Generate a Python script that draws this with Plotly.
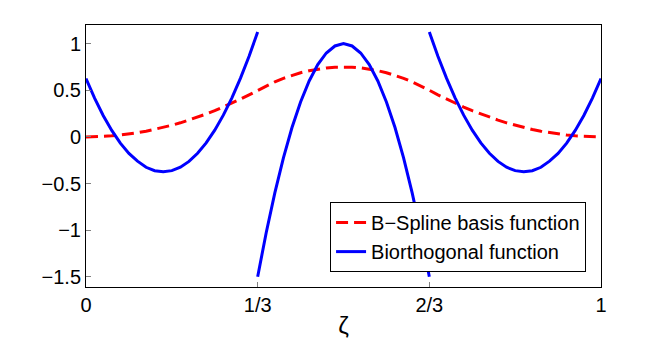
import plotly.graph_objects as go

# sample positions (zeta), 21 per knot interval
x_a = [i / 60 for i in range(0, 21)]
x_b = [i / 60 for i in range(20, 41)]
x_c = [i / 60 for i in range(40, 61)]

# B-spline basis function values
spline_a = [0, 0.001, 0.005, 0.011, 0.02, 0.031, 0.045, 0.061, 0.08, 0.101, 0.125,
            0.151, 0.18, 0.211, 0.245, 0.281, 0.32, 0.361, 0.405, 0.451, 0.5]
spline_b = [0.5, 0.548, 0.59, 0.628, 0.66, 0.688, 0.71, 0.728, 0.74, 0.748, 0.75,
            0.748, 0.74, 0.728, 0.71, 0.688, 0.66, 0.628, 0.59, 0.548, 0.5]
spline_c = spline_a[::-1]

# biorthogonal function values
bio_a = [0.625, 0.415, 0.23, 0.069, -0.067, -0.178, -0.26, -0.326, -0.363, -0.375, -0.362,
         -0.325, -0.263, -0.176, -0.065, 0.072, 0.233, 0.419, 0.63, 0.865, 1.125]
bio_b = [-1.5, -1.025, -0.6, -0.225, 0.1, 0.375, 0.6, 0.775, 0.9, 0.975, 1.0,
         0.975, 0.9, 0.775, 0.6, 0.375, 0.1, -0.225, -0.6, -1.025, -1.5]
bio_c = bio_a[::-1]

tick_vals = [0, 1/3, 2/3, 1]
tick_text = ['0', '1/3', '2/3', '1']

fig = go.Figure()
fig.add_trace(go.Scatter(x=x_a + x_b[1:] + x_c[1:],
                         y=spline_a + spline_b[1:] + spline_c[1:],
                         mode='lines', name='B\u2212Spline basis function',
                         line=dict(color='red', width=3, dash='12px,6px')))
fig.add_trace(go.Scatter(x=x_a + [None] + x_b + [None] + x_c,
                         y=bio_a + [None] + bio_b + [None] + bio_c,
                         mode='lines', name='Biorthogonal function', connectgaps=False,
                         line=dict(color='blue', width=3)))

fig.update_xaxes(range=[0, 1], tickvals=tick_vals, ticktext=tick_text,
                 ticks='inside', ticklen=5, tickcolor='gray', automargin=False,
                 showline=True, linecolor='black', mirror=True, showgrid=False,
                 zeroline=False, title=dict(text='\u03b6', standoff=6),
                 tickfont=dict(size=20))
fig.update_yaxes(range=[-1.61, 1.2], tickvals=[-1.5, -1, -0.5, 0, 0.5, 1],
                 ticktext=['\u22121.5', '\u22121', '\u22120.5', '0', '0.5', '1'],
                 ticks='inside', ticklen=5, tickcolor='gray', automargin=False,
                 showline=True, linecolor='black', mirror=True, showgrid=False,
                 zeroline=False, tickfont=dict(size=20))

fig.update_layout(
    width=664, height=339,
    margin=dict(l=86, r=63, t=25, b=52),
    plot_bgcolor='white', paper_bgcolor='white',
    font=dict(family='Liberation Sans, Arial, sans-serif', size=20, color='black'),
    legend=dict(x=0.971, y=0.324, xanchor='right', yanchor='top',
                bordercolor='black', borderwidth=1, bgcolor='white',
                font=dict(size=20), tracegroupgap=0),
)

# drop the default page margin so the figure fills the window exactly
fig.write_html("out.html", config={'displayModeBar': False},
               post_script="document.body.style.margin='0';")
